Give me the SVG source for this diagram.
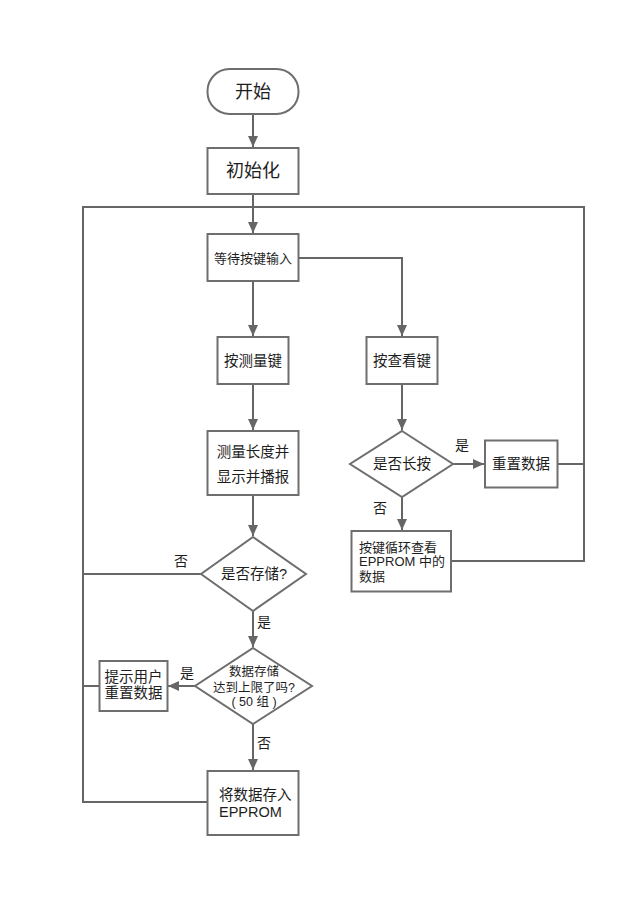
<svg xmlns="http://www.w3.org/2000/svg" width="640" height="905" viewBox="0 0 640 905">
<defs>
<marker id="arr" markerUnits="userSpaceOnUse" markerWidth="12" markerHeight="10" refX="11" refY="5" orient="auto">
<path d="M0,0 L11,5 L0,10 Z" fill="#666"/>
</marker>
<style>
.box{fill:#fff;stroke:#6e6e6e;stroke-width:2}
.ln{fill:none;stroke:#666;stroke-width:2}
.t{font-family:"Liberation Sans","Noto Sans CJK SC",sans-serif;fill:#1e1e1e;text-anchor:middle;dominant-baseline:central}
.tl{font-family:"Liberation Sans","Noto Sans CJK SC",sans-serif;fill:#1e1e1e;dominant-baseline:central}
</style>
</defs>
<rect width="640" height="905" fill="#fff"/>
<g id="connectors">
<path class="ln" d="M253,114 V147" marker-end="url(#arr)"/>
<path class="ln" d="M253,194 V233" marker-end="url(#arr)"/>
<path class="ln" d="M208,802 H83 V207 H584 V561 H451"/>
<path class="ln" d="M558,464 H584"/>
<path class="ln" d="M99,686 H83"/>
<path class="ln" d="M201,574 H83"/>
<path class="ln" d="M253,281 V336" marker-end="url(#arr)"/>
<path class="ln" d="M299,258 H402 V336" marker-end="url(#arr)"/>
<path class="ln" d="M253,384 V430" marker-end="url(#arr)"/>
<path class="ln" d="M402,384 V430" marker-end="url(#arr)"/>
<path class="ln" d="M453,464 H484" marker-end="url(#arr)"/>
<path class="ln" d="M402,497 V530" marker-end="url(#arr)"/>
<path class="ln" d="M253,495 V536" marker-end="url(#arr)"/>
<path class="ln" d="M253,611 V647" marker-end="url(#arr)"/>
<path class="ln" d="M195,686 H168" marker-end="url(#arr)"/>
<path class="ln" d="M253,724 V770" marker-end="url(#arr)"/>
</g>
<g id="labels">
<text class="t" x="462" y="445" font-size="14">是</text>
<text class="t" x="380" y="508" font-size="14">否</text>
<text class="t" x="181" y="561" font-size="14">否</text>
<text class="t" x="264" y="622" font-size="14">是</text>
<text class="t" x="187" y="673" font-size="14">是</text>
<text class="t" x="264" y="743" font-size="14">否</text>
</g>
<g id="start">
<rect class="box" x="207.5" y="69" width="91" height="45" rx="22"/>
<text class="t" x="253" y="92" font-size="18">开始</text>
</g>
<g id="init">
<rect class="box" x="207.5" y="148" width="91" height="46"/>
<text class="t" x="253" y="171" font-size="18">初始化</text>
</g>
<g id="wait">
<rect class="box" x="207.5" y="234" width="91" height="47"/>
<text class="t" x="253" y="258" font-size="13">等待按键输入</text>
</g>
<g id="measureKey">
<rect class="box" x="217.5" y="337" width="71" height="47"/>
<text class="t" x="253" y="361" font-size="14.5">按测量键</text>
</g>
<g id="viewKey">
<rect class="box" x="366.5" y="337" width="71" height="47"/>
<text class="t" x="402" y="361" font-size="14.5">按查看键</text>
</g>
<g id="measure">
<rect class="box" x="207.5" y="431" width="91" height="64"/>
<text class="t" x="253" y="452" font-size="14.5">测量长度并</text>
<text class="t" x="253" y="477" font-size="14.5">显示并播报</text>
</g>
<g id="longPress">
<polygon class="box" points="402,431 453,464 402,497 350,464"/>
<text class="t" x="402" y="464" font-size="14.5">是否长按</text>
</g>
<g id="reset">
<rect class="box" x="485" y="440.5" width="72.5" height="47"/>
<text class="t" x="521" y="464" font-size="14.5">重置数据</text>
</g>
<g id="cycleView">
<rect class="box" x="351.5" y="531" width="99.5" height="60.5"/>
<text class="tl" x="359" y="547" font-size="13">按键循环查看</text>
<text class="tl" x="359" y="561.5" font-size="13">EPPROM 中的</text>
<text class="tl" x="359" y="576" font-size="13">数据</text>
</g>
<g id="store">
<polygon class="box" points="253,537 306,574 253,611 201,574"/>
<text class="t" x="254" y="574" font-size="14.5">是否存储?</text>
</g>
<g id="limit">
<polygon class="box" points="253,648 312,686 253,724 195,686"/>
<text class="t" x="254" y="672" font-size="12.5">数据存储</text>
<text class="t" x="254" y="688" font-size="12.5">达到上限了吗?</text>
<text class="t" x="254" y="702" font-size="12.5">( 50 组 )</text>
</g>
<g id="prompt">
<rect class="box" x="99.5" y="661" width="68" height="50"/>
<text class="t" x="133.5" y="677" font-size="14.5">提示用户</text>
<text class="t" x="133.5" y="693" font-size="14.5">重置数据</text>
</g>
<g id="save">
<rect class="box" x="207.5" y="771" width="91" height="64"/>
<text class="tl" x="219" y="795" font-size="14.5">将数据存入</text>
<text class="tl" x="219" y="812" font-size="14.5">EPPROM</text>
</g>
</svg>
